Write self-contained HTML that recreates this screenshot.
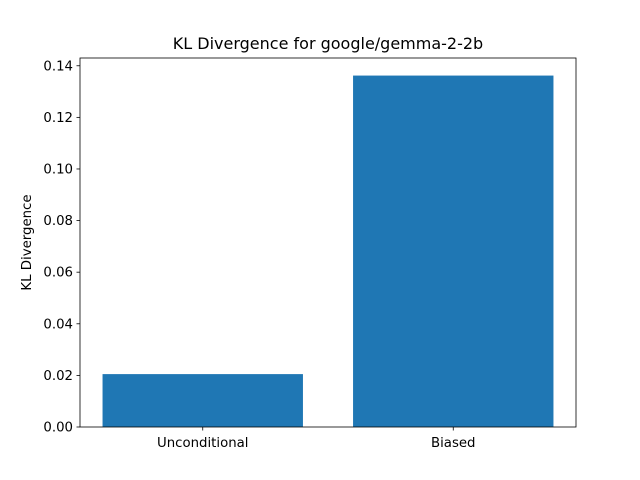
<!DOCTYPE html>
<html><head><meta charset="utf-8"><style>body{margin:0;background:#fff}svg{display:block}text{font-family:"DejaVu Sans","Liberation Sans",sans-serif;fill:#000}</style></head>
<body>
<svg id="chart" width="640" height="480">
<rect x="0" y="0" width="640" height="480" fill="#fff"/>
</svg>
<script>
const categories = ["Unconditional", "Biased"];
const values = [0.0205, 0.1362];
const yTicks = [0, 0.02, 0.04, 0.06, 0.08, 0.10, 0.12, 0.14];
const yTickLabels = ["0.00","0.02","0.04","0.06","0.08","0.10","0.12","0.14"];

const svg = document.getElementById('chart');
const NS = 'http://www.w3.org/2000/svg';
const L = 80, R = 576, T = 58, B = 427;
const ymax = Math.max(...values) * 1.05;
const xmin = -0.49, xmax = categories.length - 1 + 0.49;
const sx = v => L + (v - xmin) / (xmax - xmin) * (R - L);
const sy = v => B - v / ymax * (B - T);
function mk(tag, attrs, parent) { const e = document.createElementNS(NS, tag); for (const k in attrs) e.setAttribute(k, attrs[k]); (parent || svg).appendChild(e); return e; }

values.forEach((v, i) => {
  const r = mk('rect', {x: sx(i - 0.4), y: sy(v), width: sx(i + 0.4) - sx(i - 0.4), height: B - sy(v), fill: '#1f77b4'});
  
  
  mk('line', {x1: sx(i), x2: sx(i), y1: B, y2: B + 3.5, stroke: '#000', 'stroke-width': 0.8});
  const t = mk('text', {x: sx(i), y: B + 20, 'text-anchor': 'middle', 'font-size': 13.3});
  t.textContent = categories[i];
  
  
});
yTicks.forEach((v, i) => {
  mk('line', {x1: L - 3.5, x2: L, y1: sy(v), y2: sy(v), stroke: '#000', 'stroke-width': 0.8});
  const t = mk('text', {x: L - 7, y: sy(v) + 4.5, 'text-anchor': 'end', 'font-size': 13.3});
  t.textContent = yTickLabels[i];
  
  
});
const frame = mk('rect', {x: L, y: T, width: R - L, height: B - T, fill: 'none', stroke: '#000', 'stroke-width': 0.8});


const title = mk('text', {x: (L + R) / 2, y: T - 9, 'text-anchor': 'middle', 'font-size': 16});
title.textContent = 'KL Divergence for google/gemma-2-2b';


const yl = mk('text', {x: 0, y: 0, 'text-anchor': 'middle', 'font-size': 13.3, transform: 'translate(31,' + (T + B) / 2 + ') rotate(-90)'});
yl.textContent = 'KL Divergence';


</script>
</body></html>
